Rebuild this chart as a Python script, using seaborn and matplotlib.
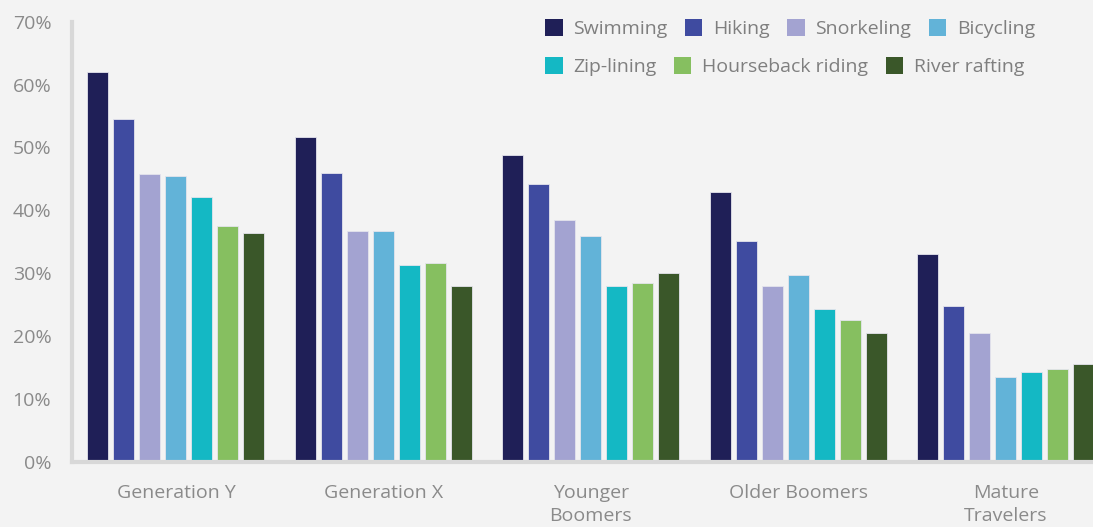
import pandas as pd
import seaborn as sns
import matplotlib.pyplot as plt
from matplotlib.patches import Patch

# Dados
grupos = ['Generation Y', 'Generation X', 'Younger\nBoomers', 'Older Boomers', 'Mature\nTravelers']
atividades = ['Swimming', 'Hiking', 'Snorkeling', 'Bicycling', 'Zip-lining', 'Hourseback riding', 'River rafting']
cores = ['#1f1f57', '#3f4ba0', '#a3a3d1', '#62b3d8', '#14b8c4', '#86bf60', '#3a5729']

swimming = [0.620, 0.516, 0.488, 0.429, 0.330]
hiking = [0.545, 0.459, 0.442, 0.351, 0.248]
snorkeling = [0.458, 0.367, 0.384, 0.280, 0.206]
bicycling = [0.454, 0.367, 0.359, 0.297, 0.135]
zip_lining = [0.421, 0.313, 0.280, 0.243, 0.143]
horseback = [0.376, 0.317, 0.284, 0.226, 0.148]
rafting = [0.364, 0.280, 0.301, 0.206, 0.156]

valores = [swimming, hiking, snorkeling, bicycling, zip_lining, horseback, rafting]

linhas = []
for atividade, serie in zip(atividades, valores):
    for grupo, v in zip(grupos, serie):
        linhas.append({'grupo': grupo, 'atividade': atividade, 'valor': v})
df = pd.DataFrame(linhas)

sns.set_style('white')
plt.rcParams['font.family'] = ['Open Sans', 'DejaVu Sans']

fundo = '#f3f3f3'
cinza = '#8a8a8a'

fig = plt.figure(figsize=(10.93, 5.27), dpi=100, facecolor=fundo)
ax = fig.add_axes([0.066, 0.123, 0.934, 0.836])
ax.set_facecolor(fundo)

sns.barplot(data=df, x='grupo', y='valor', hue='atividade', order=grupos,
            hue_order=atividades, palette=cores, saturation=1, width=0.877, gap=0.19,
            edgecolor='#e4e4ec', linewidth=0.6, legend=False, ax=ax)

ax.set_ylim(0, 0.70)
ax.set_xlim(-0.5, 4.42)
ax.set_yticks([i / 10 for i in range(8)])
ax.set_yticklabels([f'{i * 10}%' for i in range(8)])
ax.set_xlabel('')
ax.set_ylabel('')

for lado in ['top', 'right']:
    ax.spines[lado].set_visible(False)
for lado in ['left', 'bottom']:
    ax.spines[lado].set_color('#d8d8d8')
    ax.spines[lado].set_linewidth(3)

ax.tick_params(axis='y', length=0, pad=15, labelsize=14, labelcolor=cinza)
ax.tick_params(axis='x', length=0, pad=16, labelcolor=cinza)
for rotulo in ax.get_xticklabels():
    rotulo.set_fontsize(14)
    rotulo.set_linespacing(1.3)

# Legenda em duas linhas independentes
alcas = [Patch(facecolor=c, edgecolor='none') for c in cores]
estilo = dict(frameon=False, fontsize=14, labelcolor='#7f7f7f', handlelength=0.9,
              handleheight=1.0, handletextpad=0.55, columnspacing=0.9,
              borderpad=0, borderaxespad=0, loc='upper left')
fig.legend(alcas[:4], atividades[:4], ncols=4, bbox_to_anchor=(545 / 1093, 1 - 19 / 527), **estilo)
fig.legend(alcas[4:], atividades[4:], ncols=3, bbox_to_anchor=(545 / 1093, 1 - 57 / 527), **estilo)

plt.savefig('out.png', dpi=100, facecolor=fundo)
